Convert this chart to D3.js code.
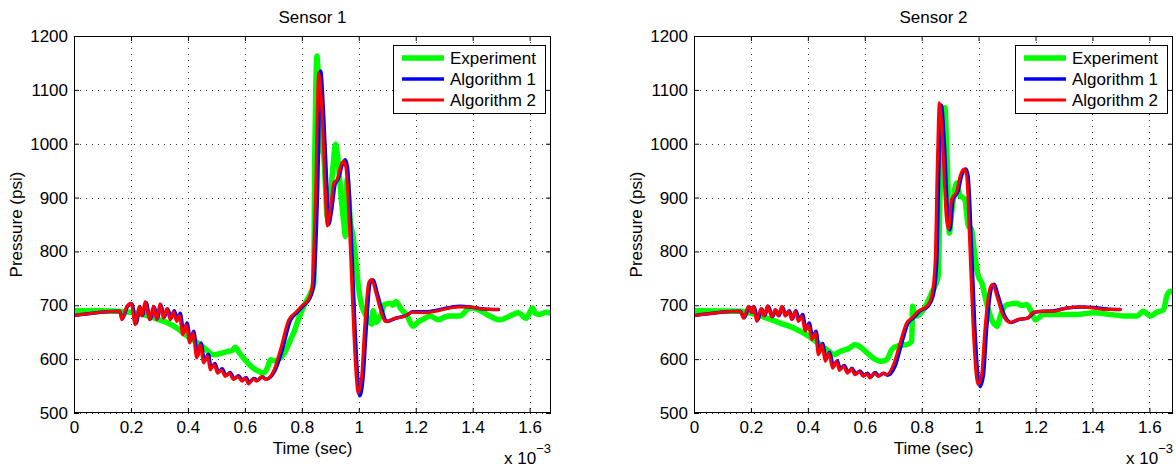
<!DOCTYPE html>
<html>
<head>
<meta charset="utf-8">
<script src="https://cdn.jsdelivr.net/npm/d3@7"></script>
<style>
  body { margin: 0; background: #fff; }
  text { font-family: "Liberation Sans", Arial, sans-serif; fill: #000; }
</style>
</head>
<body>
<div id="chart"></div>
<script>
// Time is in units of 1e-3 sec, pressure in psi
const xTicks = [0, 0.2, 0.4, 0.6, 0.8, 1, 1.2, 1.4, 1.6];
const xTickLabels = ["0", "0.2", "0.4", "0.6", "0.8", "1", "1.2", "1.4", "1.6"];
const yTicks = [500, 600, 700, 800, 900, 1000, 1100, 1200];
const yTickLabels = ["500", "600", "700", "800", "900", "1000", "1100", "1200"];
const seriesNames = ["Experiment", "Algorithm 1", "Algorithm 2"];
const panelTitles = ["Sensor 1", "Sensor 2"];

// Sensor 1
const s1Experiment = [
  [0,690],[0.1,690],[0.2,687],[0.25,682],[0.3,673],[0.33,667],[0.36,658],[0.4,642],[0.443,627],[0.47,615],
  [0.49,608],[0.51,610],[0.537,614],[0.555,616],[0.566,622],[0.58,612],[0.595,602],[0.63,583],[0.65,577],[0.666,574],
  [0.68,585],[0.69,599],[0.705,597],[0.725,602],[0.74,612],[0.76,636],[0.772,650],[0.783,667],[0.8,690],[0.812,704],
  [0.83,722],[0.842,741],[0.845,958],[0.849,1100],[0.853,1163],[0.858,1120],[0.863,1058],[0.87,990],[0.877,978],[0.883,920],
  [0.889,865],[0.9,903],[0.91,960],[0.918,999],[0.925,980],[0.93,952],[0.94,890],[0.948,850],[0.953,828],[0.959,934],
  [0.965,900],[0.97,859],[0.98,828],[0.99,780],[1.0,729],[1.01,700],[1.02,686],[1.035,673],[1.045,665],[1.05,690],
  [1.06,668],[1.076,680],[1.09,701],[1.11,704],[1.12,700],[1.13,707],[1.15,692],[1.17,680],[1.19,661],[1.21,670],
  [1.23,675],[1.25,680],[1.28,673],[1.3,678],[1.32,680],[1.355,680],[1.39,695],[1.42,692],[1.46,680],[1.495,673],
  [1.53,680],[1.56,686],[1.588,676],[1.61,695],[1.62,685],[1.635,683],[1.66,687],[1.68,684]
];
const s1Algorithm1 = [
  [0,681],[0.16,689],[0.17,675],[0.188,698],[0.203,703],[0.218,666],[0.232,697],[0.241,681],[0.253,705],[0.268,674],
  [0.282,697],[0.293,675],[0.305,701],[0.317,678],[0.329,693],[0.341,676],[0.352,690],[0.364,673],[0.373,685],[0.385,650],
  [0.397,667],[0.409,634],[0.42,652],[0.434,606],[0.446,630],[0.458,597],[0.472,609],[0.481,584],[0.495,592],[0.507,576],
  [0.52,582],[0.534,570],[0.548,575],[0.563,564],[0.577,569],[0.593,561],[0.604,566],[0.616,557],[0.631,564],[0.645,561],
  [0.661,567],[0.675,563],[0.705,578],[0.73,615],[0.76,672],[0.782,686],[0.805,699],[0.829,714],[0.842,740],[0.855,905],
  [0.866,1135],[0.876,1060],[0.887,930],[0.894,850],[0.905,878],[0.917,925],[0.929,936],[0.94,958],[0.952,970],[0.96,957],
  [0.975,810],[0.987,655],[0.997,560],[1.003,532],[1.015,565],[1.026,655],[1.04,742],[1.05,747],[1.065,722],[1.081,692],
  [1.098,670],[1.13,676],[1.166,681],[1.19,688],[1.24,688],[1.275,691],[1.32,696],[1.357,698],[1.39,697],[1.44,693],[1.49,692]
];
const s1Algorithm2 = [
  [0,681],[0.16,689],[0.168,673],[0.185,698],[0.2,704],[0.215,664],[0.229,698],[0.238,680],[0.25,707],[0.265,673],
  [0.279,698],[0.29,673],[0.302,703],[0.314,676],[0.326,694],[0.338,673],[0.349,688],[0.361,670],[0.37,681],[0.382,645],
  [0.394,664],[0.406,630],[0.417,649],[0.431,602],[0.443,627],[0.455,593],[0.469,606],[0.478,580],[0.492,590],[0.504,574],
  [0.517,580],[0.531,568],[0.545,574],[0.56,562],[0.574,568],[0.59,559],[0.601,565],[0.613,554],[0.628,563],[0.642,559],
  [0.658,568],[0.672,562],[0.7,577],[0.725,618],[0.754,673],[0.777,686],[0.8,699],[0.824,712],[0.836,735],[0.848,903],
  [0.859,1132],[0.871,1058],[0.881,930],[0.889,847],[0.9,878],[0.912,927],[0.924,934],[0.936,958],[0.947,968],[0.955,955],
  [0.97,810],[0.982,655],[0.992,560],[0.998,537],[1.01,568],[1.02,655],[1.035,742],[1.045,748],[1.06,723],[1.076,692],
  [1.093,670],[1.128,676],[1.164,680],[1.187,687],[1.236,686],[1.27,689],[1.319,695],[1.354,697],[1.389,697],[1.436,693],[1.49,692]
];

// Sensor 2
const s2Experiment = [
  [0,690],[0.162,689],[0.209,684],[0.256,676],[0.303,667],[0.35,658],[0.396,645],[0.443,627],[0.478,613],[0.49,608],
  [0.513,614],[0.548,621],[0.565,627],[0.572,626],[0.595,618],[0.63,602],[0.654,596],[0.677,599],[0.695,618],[0.718,625],
  [0.747,627],[0.765,633],[0.768,698],[0.772,690],[0.78,680],[0.806,692],[0.82,705],[0.835,723],[0.858,754],[0.864,900],
  [0.87,965],[0.876,1040],[0.882,1067],[0.887,1000],[0.89,965],[0.897,834],[0.905,870],[0.911,896],[0.917,918],[0.923,927],
  [0.935,903],[0.945,900],[0.952,896],[0.958,870],[0.964,847],[0.975,841],[0.987,791],[0.999,754],[1.011,742],[1.028,704],
  [1.046,673],[1.055,665],[1.064,661],[1.08,686],[1.099,701],[1.134,704],[1.15,700],[1.17,701],[1.187,686],[1.199,673],
  [1.228,683],[1.286,683],[1.345,683],[1.403,686],[1.462,683],[1.52,680],[1.556,680],[1.579,689],[1.603,680],[1.626,687],
  [1.65,692],[1.661,717],[1.673,726],[1.69,723]
];
const s2Algorithm1 = [
  [0,681],[0.162,689],[0.177,677],[0.194,697],[0.205,687],[0.212,697],[0.223,672],[0.238,693],[0.249,681],[0.261,698],
  [0.276,679],[0.288,691],[0.299,681],[0.311,697],[0.323,681],[0.335,690],[0.346,675],[0.358,690],[0.37,673],[0.382,683],
  [0.393,656],[0.405,667],[0.417,640],[0.429,652],[0.44,612],[0.452,629],[0.464,600],[0.476,613],[0.49,587],[0.503,597],
  [0.514,582],[0.528,588],[0.542,576],[0.555,583],[0.569,573],[0.583,578],[0.598,570],[0.61,574],[0.621,567],[0.636,575],
  [0.65,569],[0.666,574],[0.68,570],[0.706,586],[0.73,630],[0.752,667],[0.77,676],[0.793,689],[0.822,698],[0.84,717],
  [0.853,780],[0.861,965],[0.869,1072],[0.88,996],[0.892,862],[0.899,840],[0.91,896],[0.928,912],[0.94,940],[0.955,953],
  [0.963,940],[0.975,810],[0.986,667],[0.998,568],[1.005,549],[1.017,570],[1.028,655],[1.045,732],[1.055,739],[1.069,717],
  [1.092,680],[1.115,668],[1.138,673],[1.172,676],[1.196,687],[1.23,689],[1.265,690],[1.312,695],[1.36,697],[1.405,696],
  [1.45,693],[1.497,692]
];
const s2Algorithm2 = [
  [0,681],[0.162,689],[0.174,676],[0.191,698],[0.202,686],[0.209,698],[0.22,670],[0.235,694],[0.246,680],[0.258,699],
  [0.273,678],[0.285,692],[0.296,680],[0.308,698],[0.32,680],[0.332,689],[0.343,673],[0.355,689],[0.367,670],[0.379,680],
  [0.39,652],[0.402,664],[0.414,636],[0.426,649],[0.437,608],[0.449,627],[0.461,596],[0.473,611],[0.487,583],[0.5,596],
  [0.511,579],[0.525,587],[0.539,574],[0.552,582],[0.566,571],[0.58,577],[0.595,568],[0.607,573],[0.618,565],[0.633,574],
  [0.647,568],[0.663,574],[0.677,571],[0.701,590],[0.724,630],[0.747,667],[0.765,676],[0.788,689],[0.818,698],[0.835,717],
  [0.847,779],[0.855,965],[0.862,1076],[0.874,996],[0.886,865],[0.894,841],[0.905,896],[0.923,912],[0.935,940],[0.949,953],
  [0.958,940],[0.969,810],[0.98,667],[0.992,568],[0.998,553],[1.011,574],[1.022,655],[1.04,732],[1.05,739],[1.064,717],
  [1.087,680],[1.111,668],[1.134,673],[1.17,676],[1.193,687],[1.228,689],[1.263,689],[1.31,695],[1.357,697],[1.404,695],
  [1.45,692],[1.497,692]
];

const colors = ["#00ff00", "#0000ff", "#ff0000"];
const widths = [5.5, 3.5, 3];

const svg = d3.select("#chart")
    .append("svg")
        .attr("width", 1176)
        .attr("height", 469);

const panels = [
    { title: panelTitles[0], left: 74, right: 551, xMax: 1.675, series: [s1Experiment, s1Algorithm1, s1Algorithm2] },
    { title: panelTitles[1], left: 694, right: 1173, xMax: 1.683, series: [s2Experiment, s2Algorithm1, s2Algorithm2] }
];

const plotTop = 36, plotBottom = 413;

const drawPanel = (p, idx) => {
    const xScale = d3.scaleLinear().domain([0, p.xMax]).range([p.left, p.right]);
    const yScale = d3.scaleLinear().domain([500, 1200]).range([plotBottom, plotTop]);

    const g = svg.append("g");

    // Dotted grid
    g.selectAll(".vgrid")
        .data(xTicks)
        .join("line")
            .attr("x1", d => Math.round(xScale(d)) + 0.5)
            .attr("x2", d => Math.round(xScale(d)) + 0.5)
            .attr("y1", plotTop)
            .attr("y2", plotBottom)
            .attr("stroke", "#333")
            .attr("stroke-dasharray", "1,5");
    g.selectAll(".hgrid")
        .data(yTicks)
        .join("line")
            .attr("y1", d => Math.round(yScale(d)) + 0.5)
            .attr("y2", d => Math.round(yScale(d)) + 0.5)
            .attr("x1", p.left)
            .attr("x2", p.right)
            .attr("stroke", "#333")
            .attr("stroke-dasharray", "1,5");

    // Axes, ticks pointing inward like MATLAB
    const styleAxis = sel => {
        sel.select(".domain").remove();
        sel.selectAll("text").style("font-size", "17px").style("font-family", "Liberation Sans, Arial, sans-serif").attr("fill", "#000");
        sel.selectAll("line").attr("stroke", "#000");
    };
    g.append("g")
        .attr("transform", `translate(0, ${plotBottom})`)
        .call(d3.axisBottom(xScale).tickValues(xTicks).tickFormat((d, i) => xTickLabels[i]).tickSizeInner(-5).tickSizeOuter(0).tickPadding(8))
        .call(styleAxis);
    g.append("g")
        .attr("transform", `translate(0, ${plotTop})`)
        .call(d3.axisTop(xScale).tickValues(xTicks).tickFormat("").tickSizeInner(-5).tickSizeOuter(0))
        .call(styleAxis);
    g.append("g")
        .attr("transform", `translate(${p.left}, 0)`)
        .call(d3.axisLeft(yScale).tickValues(yTicks).tickFormat((d, i) => yTickLabels[i]).tickSizeInner(-5).tickSizeOuter(0).tickPadding(6))
        .call(styleAxis);
    g.append("g")
        .attr("transform", `translate(${p.right}, 0)`)
        .call(d3.axisRight(yScale).tickValues(yTicks).tickFormat("").tickSizeInner(-5).tickSizeOuter(0))
        .call(styleAxis);

    // Clip the curves to the axes box
    const clipId = "clip" + idx;
    svg.append("clipPath")
        .attr("id", clipId)
        .append("rect")
            .attr("x", p.left)
            .attr("y", plotTop)
            .attr("width", p.right - p.left)
            .attr("height", plotBottom - plotTop);

    const line = d3.line()
        .curve(d3.curveMonotoneX)
        .x(d => xScale(d[0]))
        .y(d => yScale(d[1]));

    g.append("g")
        .attr("clip-path", `url(#${clipId})`)
        .selectAll("path")
        .data(p.series)
        .join("path")
            .attr("d", d => line(d))
            .attr("fill", "none")
            .attr("stroke", (d, i) => colors[i])
            .attr("stroke-width", (d, i) => widths[i])
            .attr("stroke-linejoin", "round")
            .attr("stroke-linecap", "round");

    // Box
    g.append("rect")
        .attr("x", p.left + 0.5)
        .attr("y", plotTop + 0.5)
        .attr("width", p.right - p.left - 1)
        .attr("height", plotBottom - plotTop - 1)
        .attr("fill", "none")
        .attr("stroke", "#000");

    // Legend
    const lg = g.append("g")
        .attr("transform", `translate(${p.right - 158}, 45)`);
    lg.append("rect")
        .attr("x", 0.5)
        .attr("y", 0.5)
        .attr("width", 152)
        .attr("height", 68)
        .attr("fill", "#fff")
        .attr("stroke", "#000");
    seriesNames.forEach((name, i) => {
        const yy = 13 + i * 21;
        lg.append("line")
            .attr("x1", 9)
            .attr("x2", 51)
            .attr("y1", yy)
            .attr("y2", yy)
            .attr("stroke", colors[i])
            .attr("stroke-width", widths[i]);
        lg.append("text")
            .text(name)
            .attr("x", 57)
            .attr("y", yy + 6)
            .style("font-size", "17px");
    });

    const cx = (p.left + p.right) / 2;

    // Title
    g.append("text")
        .text(p.title)
        .attr("x", cx)
        .attr("y", 23)
        .attr("text-anchor", "middle")
        .style("font-size", "17px");

    // Axis labels
    g.append("text")
        .text("Time (sec)")
        .attr("x", cx)
        .attr("y", 454)
        .attr("text-anchor", "middle")
        .style("font-size", "17px");
    g.append("text")
        .text("Pressure (psi)")
        .attr("transform", `translate(${p.left - 52}, ${(plotTop + plotBottom) / 2}) rotate(-90)`)
        .attr("text-anchor", "middle")
        .style("font-size", "17px");

    // Exponent note
    const ex = g.append("text")
        .attr("x", p.right)
        .attr("y", 464)
        .attr("text-anchor", "end")
        .style("font-size", "17px");
    ex.append("tspan").text("x 10");
    ex.append("tspan").text("−3").attr("dy", -11).style("font-size", "13px");
};

panels.forEach(drawPanel);
</script>
</body>
</html>
